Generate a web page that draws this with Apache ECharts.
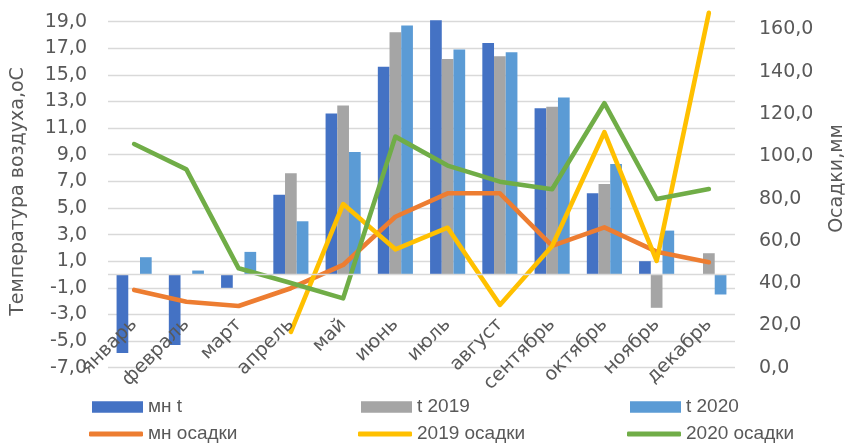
<!DOCTYPE html>
<html>
<head>
<meta charset="utf-8">
<script src="https://cdn.jsdelivr.net/npm/echarts@6/dist/echarts.min.js"></script>
<style>
  html, body { margin: 0; padding: 0; background: #ffffff; }
  #chart { width: 848px; height: 445px; }
</style>
</head>
<body>
<div id="chart"></div>
<script>
// Months on the category axis
const months = ['январь', 'февраль', 'март', 'апрель', 'май', 'июнь',
                'июль', 'август', 'сентябрь', 'октябрь', 'ноябрь', 'декабрь'];

// Air temperature, °C (left axis)
const tempMean = [-5.9, -5.3, -1.0, 6.0, 12.1, 15.6, 19.1, 17.4, 12.5, 6.1, 1.0, null];
const temp2019 = [null, null, null, 7.6, 12.7, 18.2, 16.2, 16.4, 12.6, 6.8, -2.5, 1.6];
const temp2020 = [1.3, 0.3, 1.7, 4.0, 9.2, 18.7, 16.9, 16.7, 13.3, 8.3, 3.3, -1.5];

// Precipitation, mm (right axis)
const precipMean = [36.8, 31.2, 29.2, 37.6, 48.6, 71.4, 82.5, 82.5, 57.6, 66.4, 54.9, 49.9];
const precip2019 = [null, null, null, 17.0, 77.4, 56.0, 66.2, 29.7, 57.6, 111.4, 50.5, 167.9];
const precip2020 = [105.8, 93.8, 47.0, 40.1, 32.8, 109.3, 95.6, 88.0, 84.4, 125.1, 79.8, 84.5];

// Tick labels
const tempTicks = ['-7,0', '-5,0', '-3,0', '-1,0', '1,0', '3,0', '5,0', '7,0',
                   '9,0', '11,0', '13,0', '15,0', '17,0', '19,0'];
const precipTicks = ['0,0', '20,0', '40,0', '60,0', '80,0', '100,0', '120,0', '140,0', '160,0'];

// Axis titles
const tempTitle = 'Температура воздуха,оС';
const precipTitle = 'Осадки,мм';

const TEMP_MIN = -7, TEMP_MAX = 20, TEMP_STEP = 2;
const PRECIP_MIN = 0, PRECIP_MAX = 170, PRECIP_STEP = 20;

const textColor = '#595959';
const gridColor = '#d9d9d9';
const axisFont = 'DejaVu Sans';
const legendFont = 'Liberation Sans';

const chart = echarts.init(document.getElementById('chart'), null, { renderer: 'canvas' });

const barSeries = (name, data, color, extra) => Object.assign({
  name, type: 'bar', data, yAxisIndex: 0,
  barWidth: 11.7, barGap: '0%',
  itemStyle: { color }
}, extra || {});

const lineSeries = (name, data, color) => ({
  name, type: 'line', data, yAxisIndex: 1,
  symbol: 'none', showSymbol: false,
  lineStyle: { color, width: 4.6, cap: 'round', join: 'round' },
  itemStyle: { color }
});

// one legend row; every entry occupies a fixed-width column
const legendRow = (names, top, left, iconW, iconH, icon) => ({
  data: names.map((n, i) => ({
    name: n, icon,
    textStyle: { width: i < names.length - 1 ? 269 - iconW - 5 : 130 }
  })),
  orient: 'horizontal',
  left, top, width: 760, padding: 0,
  itemWidth: iconW, itemHeight: iconH, itemGap: 0,
  selectedMode: false,
  textStyle: { color: textColor, fontFamily: legendFont, fontSize: 19, lineHeight: 22 }
});

// horizontal category axis line at 0 °C
const zeroLine = {
  markLine: {
    silent: true, symbol: 'none', label: { show: false },
    lineStyle: { color: gridColor, width: 1.3, type: 'solid' },
    data: [{ yAxis: 0 }]
  }
};

const axisTitle = (text, x, y) => ({
  type: 'text', x, y, rotation: Math.PI / 2, silent: true,
  style: { text, fill: textColor, font: '19px "DejaVu Sans"', align: 'center', verticalAlign: 'middle' }
});

chart.setOption({
  animation: false,
  backgroundColor: '#ffffff',
  grid: { left: 108, right: 113, top: 8.3, bottom: 77.3, containLabel: false, outerBoundsMode: 'none' },
  legend: [
    legendRow(['мн t', 't 2019', 't 2020'], 396, 92, 51, 11.5, 'rect'),
    legendRow(['мн осадки', '2019 осадки', '2020 осадки'], 423, 89, 54, 5, 'roundRect')
  ],
  graphic: [
    axisTitle(tempTitle, 18, 191.5),
    axisTitle(precipTitle, 837, 178.5)
  ],
  xAxis: {
    type: 'category',
    data: months,
    position: 'bottom',
    boundaryGap: true,
    z: 5,
    axisTick: { show: false },
    axisLine: { show: false, onZero: false },
    axisLabel: { interval: 0, rotate: 45, margin: -46, color: textColor, fontFamily: axisFont, fontSize: 19, hideOverlap: false },
    splitLine: { show: false }
  },
  yAxis: [
    {
      // value scale for the temperature bars
      type: 'value', position: 'left',
      min: TEMP_MIN, max: TEMP_MAX,
      axisLine: { show: false }, axisTick: { show: false },
      axisLabel: { show: false }, splitLine: { show: false }
    },
    {
      // precipitation scale
      type: 'value', position: 'right',
      min: PRECIP_MIN, max: PRECIP_MAX, interval: PRECIP_STEP,
      axisLine: { show: false }, axisTick: { show: false },
      axisLabel: {
        margin: 24, color: textColor, fontFamily: axisFont, fontSize: 19,
        showMaxLabel: false,
        formatter: v => precipTicks[Math.round(v / PRECIP_STEP)] ?? ''
      },
      splitLine: { show: false }
    },
    {
      // temperature ticks and gridlines, counted upward from TEMP_MIN
      type: 'value', position: 'left',
      min: 0, max: TEMP_MAX - TEMP_MIN, interval: TEMP_STEP,
      axisLine: { show: false }, axisTick: { show: false },
      axisLabel: {
        margin: 21, color: textColor, fontFamily: axisFont, fontSize: 19,
        showMaxLabel: false,
        formatter: v => tempTicks[Math.round(v / TEMP_STEP)] ?? ''
      },
      splitLine: { show: true, showMaxLine: false, lineStyle: { color: gridColor, width: 1.3 } }
    }
  ],
  series: [
    barSeries('мн t', tempMean, '#4472c4', zeroLine),
    barSeries('t 2019', temp2019, '#a5a5a5'),
    barSeries('t 2020', temp2020, '#5b9bd5'),
    lineSeries('мн осадки', precipMean, '#ed7d31'),
    lineSeries('2019 осадки', precip2019, '#ffc000'),
    lineSeries('2020 осадки', precip2020, '#70ad47')
  ]
});
</script>
</body>
</html>
